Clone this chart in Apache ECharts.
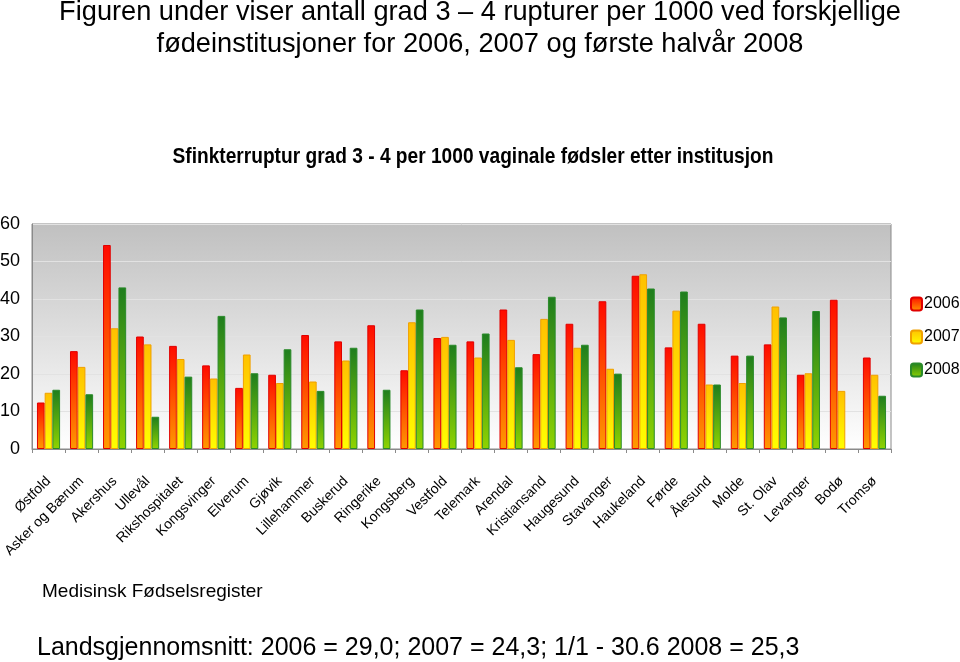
<!DOCTYPE html>
<html>
<head>
<meta charset="utf-8">
<script src="https://cdn.jsdelivr.net/npm/echarts@6/dist/echarts.min.js"></script>
<style>
html,body{margin:0;padding:0;background:#fff;}
#c{width:960px;height:662px;}
</style>
</head>
<body>
<div id="c"></div>
<script>
const categories = ["Østfold","Asker og Bærum","Akershus","Ullevål","Rikshospitalet","Kongsvinger","Elverum","Gjøvik","Lillehammer","Buskerud","Ringerike","Kongsberg","Vestfold","Telemark","Arendal","Kristiansand","Haugesund","Stavanger","Haukeland","Førde","Ålesund","Molde","St. Olav","Levanger","Bodø","Tromsø"];
const values2006 = [12.4,26.1,54.4,30.0,27.5,22.3,16.3,19.8,30.4,28.7,33.0,21.0,29.6,28.7,37.2,25.3,33.4,39.4,46.2,27.1,33.4,24.9,27.9,19.8,39.8,24.4];
const values2007 = [15.0,21.9,32.2,27.9,24.0,18.8,25.2,17.6,18.0,23.6,0,33.8,29.9,24.4,29.1,34.7,27.0,21.4,46.6,36.9,17.2,17.6,38.0,20.2,15.5,19.8];
const values2008 = [15.8,14.6,43.1,8.6,19.3,35.5,20.2,26.6,15.5,27.0,15.8,37.2,27.8,30.8,21.8,40.6,27.8,20.1,42.8,42.0,17.2,24.9,35.1,36.8,0,14.2];
const seriesNames = ["2006","2007","2008"];
const yTicks = [0,10,20,30,40,50,60];

function grad(top, bottom){
  return new echarts.graphic.LinearGradient(0,0,0,1,[{offset:0,color:top},{offset:1,color:bottom}]);
}
const styles = [
  {color: grad('#ff0a00','#ff9a00'), borderColor:'#e00000'},
  {color: grad('#ffc000','#ffff00'), borderColor:'#f0a000'},
  {color: grad('#1e7d1e','#8fd400'), borderColor:'#2a8a2a'}
];
const data = [values2006, values2007, values2008];
const FONT = 'Liberation Sans, Arial, sans-serif';

const chart = echarts.init(document.getElementById('c'));
chart.setOption({
  animation:false,
  backgroundColor:'#fff',
  textStyle:{fontFamily:FONT},
  title:[
    {text:'Figuren under viser antall grad 3 – 4 rupturer per 1000 ved forskjellige\nfødeinstitusjoner for 2006, 2007 og første halvår 2008',
     left:'center', top:-8,
     textStyle:{fontSize:27.2, fontWeight:'normal', color:'#000', lineHeight:32, fontFamily:FONT}},
    {text:'Medisinsk Fødselsregister', left:37, top:577,
     textStyle:{fontSize:19, fontWeight:'normal', color:'#000'}},
    {text:'Landsgjennomsnitt: 2006 = 29,0; 2007 = 24,3; 1/1 - 30.6 2008 = 25,3', left:32, top:631,
     textStyle:{fontSize:25, fontWeight:'normal', color:'#000'}}
  ],
  graphic:[
    {type:'text', x:473, y:157, scaleX:0.87,
     style:{text:'Sfinkterruptur grad 3 - 4 per 1000 vaginale fødsler etter institusjon',
       font:'bold 22px Liberation Sans, Arial, sans-serif', fill:'#000',
       textAlign:'center', textVerticalAlign:'middle'}}
  ],
  legend:{
    orient:'vertical', left:910, top:296, padding:0, itemGap:17, itemWidth:11, itemHeight:13,
    textStyle:{fontSize:16, color:'#000', padding:[0,0,0,-3]},
    data:seriesNames
  },
  grid:{left:32, right:69, top:224, bottom:213, show:true, containLabel:false, outerBoundsMode:'none',
    backgroundColor: grad('#c0c0c0','#ffffff'),
    borderColor:'#8a8a8a', borderWidth:1},
  xAxis:{
    type:'category', data:categories,
    axisLine:{lineStyle:{color:'#8a8a8a'}},
    axisTick:{show:true, lineStyle:{color:'#8a8a8a'}, length:4},
    axisLabel:{interval:0, rotate:45, fontSize:14, color:'#000', margin:30, fontFamily:FONT}
  },
  yAxis:{
    type:'value', min:0, max:60, interval:10,
    axisLine:{show:true, lineStyle:{color:'#8a8a8a'}},
    axisTick:{show:false},
    splitLine:{lineStyle:{color:'#e2e2e2'}},
    axisLabel:{fontSize:18, color:'#000', margin:12,
      formatter:function(v){return yTicks.indexOf(v)>=0 ? String(v) : '';}}
  },
  series: seriesNames.map((n,i)=>({
    name:n, type:'bar', data:data[i].map(v=>v===0?null:v),
    barGap:'0%', barCategoryGap:'30%',
    itemStyle:{color:styles[i].color, borderColor:styles[i].borderColor, borderWidth:1}
  }))
});
</script>
</body>
</html>
